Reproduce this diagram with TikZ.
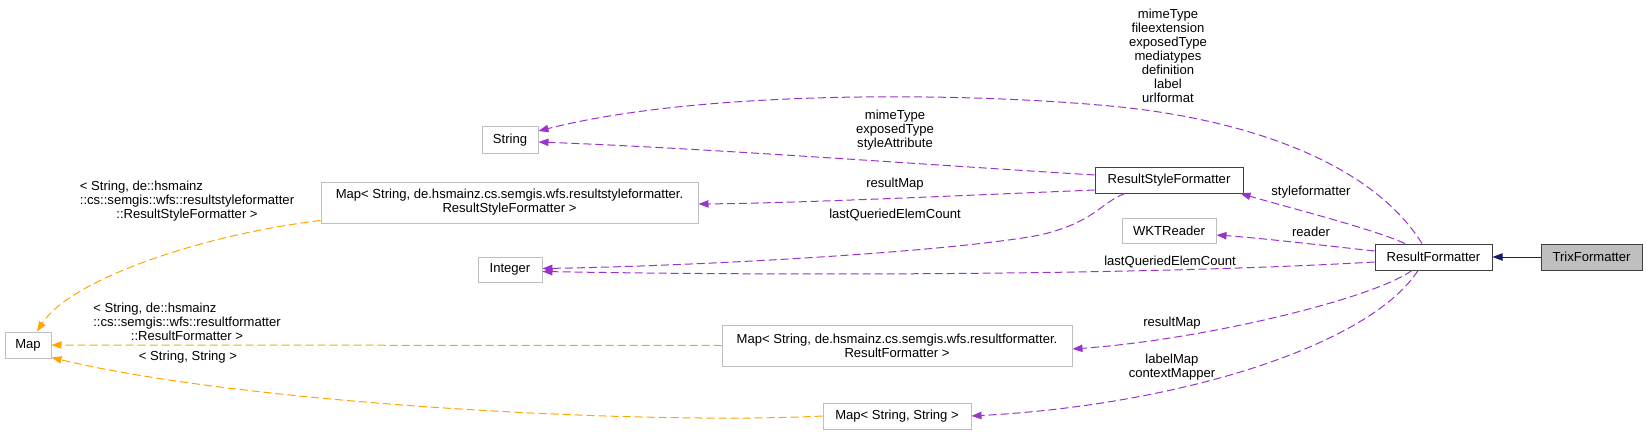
\documentclass[tikz,border=0pt]{standalone}
\usepackage{fontspec}
\setmainfont{Liberation Sans}
\usetikzlibrary{arrows.meta,calc}
\definecolor{DepPurple}{RGB}{154,50,205}
\definecolor{TplOrange}{RGB}{255,165,0}
\definecolor{BoxGray}{RGB}{191,191,191}
\definecolor{EdgeDark}{RGB}{64,64,64}
\definecolor{InhBlue}{RGB}{25,25,112}

\begin{document}
\begin{tikzpicture}[x=0.75pt,y=-0.75pt,
  cls/.style={rectangle,draw=BoxGray,line width=0.75pt,inner sep=1pt,align=center,minimum height=19.5pt,font=\fontsize{9.8}{10.5}\selectfont},
  doc/.style={cls,draw=EdgeDark},
  lbl/.style={inner sep=0pt,align=center,font=\fontsize{9.8}{10.5}\selectfont},
  dep/.style={-{Triangle[length=7.5pt,width=5.5pt]},draw=DepPurple,line width=0.75pt,dash pattern=on 6pt off 3pt},
  tpl/.style={dep,draw=TplOrange},
  inh/.style={-{Triangle[length=7.5pt,width=5.5pt]},draw=InhBlue,line width=0.75pt}
]
  \useasboundingbox (0,0) rectangle (1647,435);
  \node[doc,fill=BoxGray,minimum width=75.75pt] (trix) at (1591.5,257) {TrixFormatter};
  \node[doc,minimum width=87.75pt] (rf) at (1433.5,257) {ResultFormatter};
  \node[doc,minimum width=111pt] (rsf) at (1169,180) {ResultStyleFormatter};
  \node[cls,minimum width=70.5pt,minimum height=18.75pt] (wkt) at (1169,230.5) {WKTReader};
  \node[cls,minimum width=42pt] (string) at (510,140) {String};
  \node[cls,minimum width=48pt,minimum height=18.75pt] (integer) at (510,269.5) {Integer};
  \node[cls,minimum width=282.75pt,minimum height=30.75pt] (maprsf) at (509.5,202.5) {Map< String, de.hsmainz.cs.semgis.wfs.resultstyleformatter.\\ResultStyleFormatter >};
  \node[cls,minimum width=34.5pt] (map) at (28,345) {Map};
  \node[cls,minimum width=262.5pt,minimum height=30.75pt] (maprf) at (897,345.5) {Map< String, de.hsmainz.cs.semgis.wfs.resultformatter.\\ResultFormatter >};
  \node[cls,minimum width=111pt] (mapss) at (897,416) {Map< String, String >};

  \draw[inh] (trix.west) -- (rf.east);
  \draw[dep] ($(rf.north)+(-11.5,0)$) .. controls (1370,160) and (1240,118) .. (1110,106)
    .. controls (960,92) and (700,90) .. ($(string.east)+(0,-9)$);
  \draw[dep] ($(rf.north)+(-28.5,0)$) .. controls (1370,228) and (1290,208) .. ($(rsf.south east)+(-3,0)$);
  \draw[dep] ($(rf.west)+(0,-6)$) .. controls (1320,245) and (1260,238) .. ($(wkt.east)+(0,4.5)$);
  \draw[dep] ($(rf.west)+(0,5)$) .. controls (1150,275) and (800,276) .. ($(integer.east)+(0,2)$);
  \draw[dep] ($(rsf.west)+(0,-5)$) .. controls (900,163) and (700,148) .. ($(string.east)+(0,2)$);
  \draw[dep] ($(rsf.west)+(0,10)$) .. controls (950,196) and (800,203) .. ($(maprsf.east)+(0,1.5)$);
  \draw[dep] ($(rsf.south)+(-44,0)$) .. controls (1100,203) and (1095,222) .. (1040,235)
    .. controls (950,252) and (700,266) .. ($(integer.east)+(0,-1)$);
  \draw[dep] ($(rf.south)+(-21.5,0)$) .. controls (1370,300) and (1200,340) .. ($(maprf.east)+(0,3.5)$);
  \draw[dep] ($(rf.south)+(-15.5,0)$) .. controls (1370,345) and (1180,405) .. (mapss.east);
  \draw[tpl] ($(maprsf.south west)+(0,-3)$) .. controls (200,235) and (70,280) .. ($(map.north)+(9,0)$);
  \draw[tpl] (maprf.west) -- (map.east);
  \draw[tpl] (mapss.west) .. controls (650,425) and (250,405) .. ($(map.south east)+(0,-1)$);

  \node[lbl] (l-top) at (1168,56) {mimeType\\fileextension\\exposedType\\mediatypes\\definition\\label\\urlformat};
  \node[lbl] (l-rsfstr) at (895,130) {mimeType\\exposedType\\styleAttribute};
  \node[lbl] (l-rsfmap) at (895,184) {resultMap};
  \node[lbl] (l-rsfint) at (895,215) {lastQueriedElemCount};
  \node[lbl] (l-style) at (1311,192) {styleformatter};
  \node[lbl] (l-reader) at (1311,232) {reader};
  \node[lbl] (l-rfint) at (1170,262) {lastQueriedElemCount};
  \node[lbl] (l-rfmap) at (1172,323) {resultMap};
  \node[lbl] (l-rfss) at (1172,367) {labelMap\\contextMapper};
  \node[lbl] (t-rsf) at (187,201) {\makebox[0pt][l]{< String, de::hsmainz}\phantom{::cs::semgis::wfs::resultstyleformatter}\\::cs::semgis::wfs::resultstyleformatter\\::ResultStyleFormatter >};
  \node[lbl] (t-rf) at (187,322) {\makebox[0pt][l]{< String, de::hsmainz}\phantom{::cs::semgis::wfs::resultformatter}\\::cs::semgis::wfs::resultformatter\\::ResultFormatter >};
  \node[lbl] (t-ss) at (188,357) {< String, String >};
\end{tikzpicture}
\end{document}
